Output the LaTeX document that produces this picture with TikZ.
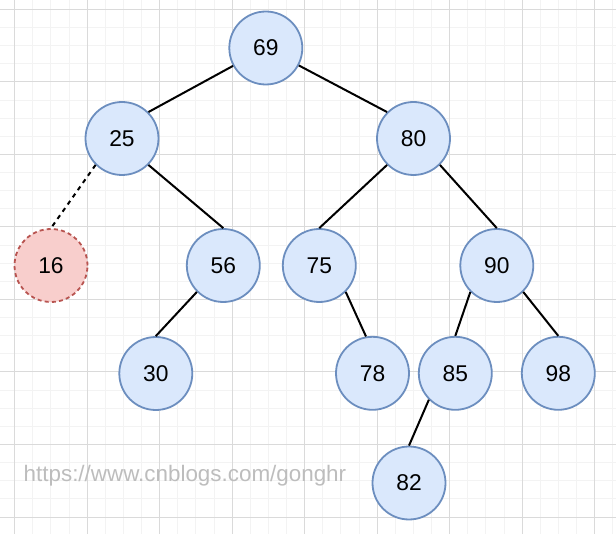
\documentclass[tikz,border=0pt]{standalone}
\usepackage{fontspec}
\setmainfont{Liberation Sans}
\definecolor{nofundo}{HTML}{DAE8FC}
\definecolor{noborda}{HTML}{6C8EBF}
\definecolor{novofundo}{HTML}{F8CECC}
\definecolor{novoborda}{HTML}{B85450}
\definecolor{grademenor}{HTML}{F3F3F3}
\definecolor{grademaior}{HTML}{DADADA}
\definecolor{marca}{HTML}{BDBDBD}
\begin{document}
\begin{tikzpicture}[x=0.5pt,y=-0.5pt,
    no/.style={circle,draw=noborda,fill=nofundo,line width=0.9pt,minimum size=36.5pt,inner sep=0pt,font=\fontsize{11.4}{13}\selectfont},
    novo/.style={no,draw=novoborda,fill=novofundo,dash pattern=on 2pt off 1.6pt},
    aresta/.style={line width=1pt}]
    \useasboundingbox (0,0) rectangle (616,534);
    \fill[white] (0,0) rectangle (616,534);

    % grade de fundo
    \foreach \k in {0,...,33}
      \draw[grademenor,line width=0.5pt] ({14.7+18.125*\k},0) -- ({14.7+18.125*\k},534);
    \foreach \k in {0,...,28}
      \draw[grademenor,line width=0.5pt] (0,{9.5+18.125*\k}) -- (616,{9.5+18.125*\k});
    \foreach \k in {0,...,8}
      \draw[grademaior,line width=0.5pt] ({14.7+72.5*\k},0) -- ({14.7+72.5*\k},534);
    \foreach \k in {0,...,7}
      \draw[grademaior,line width=0.5pt] (0,{9.5+72.5*\k}) -- (616,{9.5+72.5*\k});

    \node (n69) at (265.8,48) [no] {69};
    \node (n25) at (122,138.5) [no] {25};
    \node (n80) at (413.5,138.5) [no] {80};
    \node (n16) at (51,265.5) [novo] {16};
    \node (n56) at (223.3,265.5) [no] {56};
    \node (n75) at (319.3,265.5) [no] {75};
    \node (n90) at (496.8,265.5) [no] {90};
    \node (n30) at (155.8,373.5) [no] {30};
    \node (n78) at (372.5,373.3) [no] {78};
    \node (n85) at (455.3,373.3) [no] {85};
    \node (n98) at (558.3,373.3) [no] {98};
    \node (n82) at (409,483) [no] {82};

    \draw[aresta] (n69) -- (n25.north east);
    \draw[aresta] (n69) -- (n80.north west);
    \draw[aresta,dash pattern=on 2.2pt off 2.2pt] (n25.south west) -- (n16.north);
    \draw[aresta] (n25.south east) -- (n56.north);
    \draw[aresta] (n56.south west) -- (n30.north);
    \draw[aresta] (n80.south west) -- (n75.north);
    \draw[aresta] (n80.south east) -- (n90.north);
    \draw[aresta] (n75.south east) -- (n78.100);
    \draw[aresta] (n90.south west) -- (n85.north);
    \draw[aresta] (n90.south east) -- (n98.north);
    \draw[aresta] (n85.south west) -- (n82.north);

    \node (site) at (23.3,481.7) [anchor=base west,inner sep=0pt,text=marca,font=\fontsize{11.2}{13}\selectfont] {https://www.cnblogs.com/gonghr};
  \end{tikzpicture}
\end{document}
